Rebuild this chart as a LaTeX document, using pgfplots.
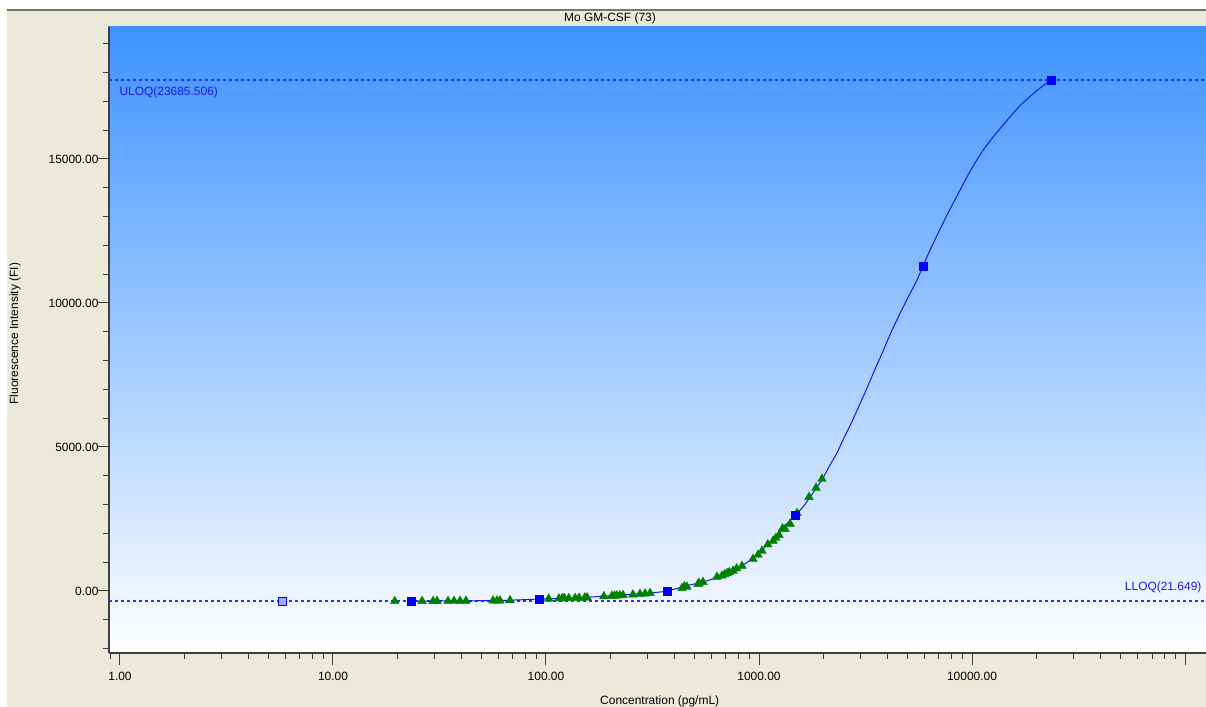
\documentclass[border=0pt]{standalone}
\usepackage{fontspec}
\setmainfont{Liberation Sans}
\usepackage{pgfplots}
\pgfplotsset{compat=1.18}
\definecolor{beige}{RGB}{236,233,216}
\definecolor{framegray}{RGB}{120,118,105}
\definecolor{topblue}{RGB}{62,146,255}
\definecolor{curveblue}{RGB}{20,20,250}
\definecolor{dashblue}{RGB}{40,50,255}
\definecolor{labelblue}{RGB}{25,25,240}
\definecolor{triggreen}{RGB}{0,128,0}
\definecolor{axisgray}{RGB}{64,64,64}

\pgfplotstableread{
x y
23.2 -350
35.4 -345
60.8 -330
92.7 -280
130 -245
179 -190
248 -120
308 -70
370 0
474 210
546 310
678 555
841 900
979 1250
1127 1700
1297 2190
1476 2640
1610 2920
1833 3510
1996 3920
2153 4370
2323 4790
2477 5240
2700 5800
2979 6500
3230 7080
3506 7700
3800 8280
4121 8900
4540 9560
5012 10200
5521 10800
5890 11285
6354 11840
7080 12560
7715 13125
8503 13720
9577 14440
10330 14860
11270 15300
12560 15760
14290 16260
16800 16850
20180 17380
23500 17743
}\curvedata

\pgfplotstableread{
x y
19.5 -355
26.2 -350
29.5 -350
30.8 -350
34.7 -348
37.0 -347
39.5 -345
42.1 -343
56.4 -335
58.9 -333
60.8 -332
67.8 -325
103 -270
115 -262
119 -258
120 -255
122 -253
128 -250
137 -243
143 -238
152 -230
156 -225
187 -185
204 -170
210 -165
215 -160
222 -152
230 -145
256 -125
276 -105
292 -90
308 -75
435 100
447 160
459 140
517 240
523 270
546 310
635 490
670 530
690 575
708 620
725 650
755 700
785 780
832 870
937 1110
989 1250
1033 1390
1100 1620
1164 1740
1200 1840
1242 1940
1290 2170
1325 2150
1400 2330
1508 2700
1717 3260
1853 3580
1976 3890
}\samples

\pgfplotstableread{
x y
23.2 -350
92.7 -280
370 0
1476 2640
5890 11285
23500 17743
}\standards

\begin{document}
\begin{tikzpicture}[font=\fontsize{12}{14}\selectfont]
\useasboundingbox (0,0) rectangle (1206bp,707bp);
\fill[white] (0,0) rectangle (1206bp,707bp);
\fill[beige] (7bp,0) rectangle (1206bp,697bp);
\draw[framegray,line width=1.5bp] (7bp,697bp) -- (1206bp,697bp);
\draw[framegray,line width=1.5bp] (108bp,680.5bp) -- (1206bp,680.5bp);
\node at (610bp,689bp) {Mo GM-CSF (73)};
\begin{axis}[
  at={(109bp,54bp)}, anchor=south west,
  scale only axis, width=1097bp, height=626bp,
  xmode=log, log basis x=10,
  xmin=0.888, xmax=125500,
  ymin=-2153, ymax=19583,
  scaled y ticks=false,
  axis x line*=bottom, axis y line*=left,
  axis line style={draw=axisgray, line width=1.6bp},
  axis background/.style={shade, top color=topblue, bottom color=white},
  tick align=outside,
  major tick length=12bp, minor tick length=6bp,
  every tick/.style={axisgray, line width=1bp},
  xtick={1,10,100,1000,10000,100000},
  xticklabels={1.00,10.00,100.00,1000.00,10000.00,},
  minor xtick={0.9,2,3,4,5,6,7,8,9,20,30,40,50,60,70,80,90,200,300,400,500,600,700,800,900,2000,3000,4000,5000,6000,7000,8000,9000,20000,30000,40000,50000,60000,70000,80000,90000},
  ytick={0,5000,10000,15000},
  yticklabels={0.00,5000.00,10000.00,15000.00},
  minor ytick={-2000,-1000,1000,2000,3000,4000,6000,7000,8000,9000,11000,12000,13000,14000,16000,17000,18000,19000},
  yticklabel style={xshift=5bp},
  xticklabel style={yshift=-4bp},
  xlabel={Concentration (pg/mL)},
  ylabel={Fluorescence Intensity (FI)},
  every axis x label/.style={at={(axis description cs:0.502,-0.078)}, anchor=center},
  every axis y label/.style={at={(axis description cs:-0.0857,0.51)}, anchor=center, rotate=90},
  clip=false,
]
\addplot[dashblue, line width=1.2bp, dash pattern=on 3bp off 3bp] coordinates {(0.888,17743) (125500,17743)};
\addplot[dashblue, line width=1.2bp, dash pattern=on 3bp off 3bp] coordinates {(0.888,-350) (125500,-350)};
\addplot[curveblue, line width=1bp, smooth, tension=0.4] table[x=x,y=y] {\curvedata};
\addplot[only marks, mark=triangle*, mark size=5bp, triggreen, mark options={draw=triggreen, fill=triggreen}] table[x=x,y=y] {\samples};
\addplot[only marks, mark=square*, mark size=4bp, mark options={draw=blue, fill=blue}] table[x=x,y=y] {\standards};
\addplot[only marks, mark=square*, mark size=4bp, mark options={draw=blue, fill=blue!35, line width=1bp}] coordinates {(5.82,-350)};
\node[anchor=west, text=labelblue, xshift=-4bp] at (axis cs:1.0,17326) {ULOQ(23685.506)};
\node[anchor=east, text=labelblue] at (rel axis cs:0.999,0.105) {LLOQ(21.649)};
\end{axis}
\end{tikzpicture}
\end{document}
